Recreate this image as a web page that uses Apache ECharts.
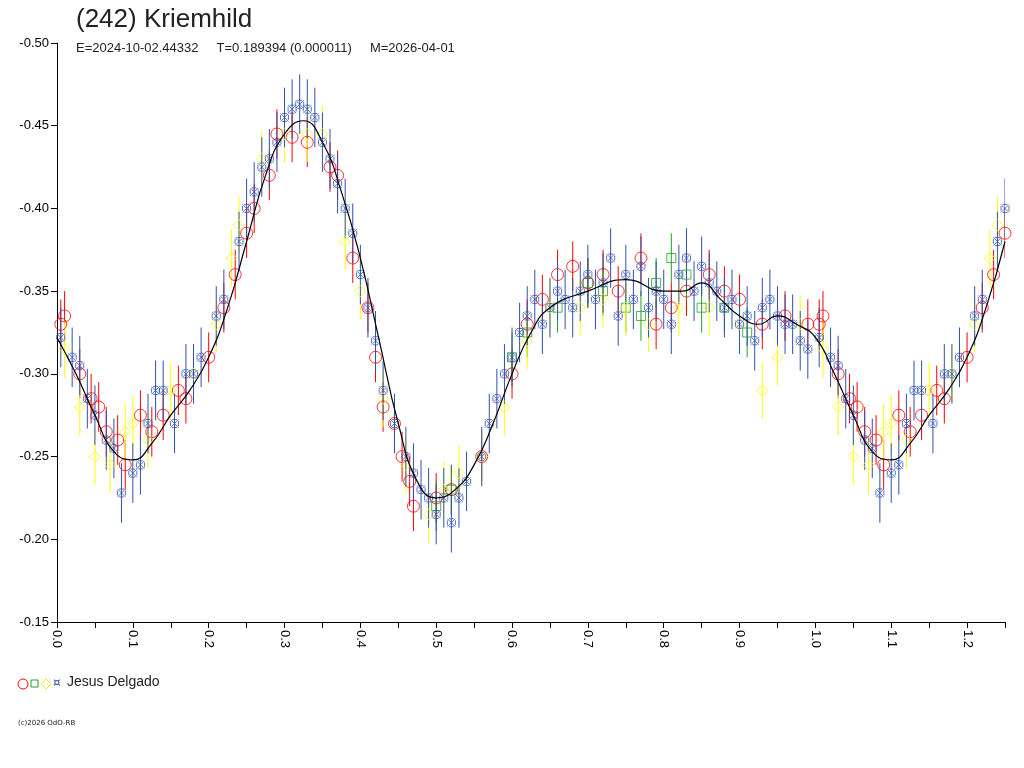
<!DOCTYPE html>
<html>
<head>
<meta charset="utf-8">
<title>(242) Kriemhild</title>
<script src="https://cdn.jsdelivr.net/npm/echarts@6/dist/echarts.min.js"></script>
<style>body{margin:0;background:#fff}#main{width:1024px;height:768px}</style>
</head>
<body>
<div id="main"></div>
<script>
// [phase, mag]
var blueData = [[0.005,-0.322],[0.02,-0.31],[0.03,-0.305],[0.04,-0.285],[0.05,-0.275],[0.065,-0.26],[0.075,-0.255],[0.085,-0.228],[0.1,-0.24],[0.11,-0.245],[0.12,-0.27],[0.13,-0.29],[0.14,-0.29],[0.155,-0.27],[0.17,-0.3],[0.18,-0.3],[0.19,-0.31],[0.21,-0.335],[0.22,-0.345],[0.24,-0.38],[0.25,-0.4],[0.26,-0.41],[0.27,-0.425],[0.28,-0.43],[0.29,-0.44],[0.3,-0.455],[0.31,-0.46],[0.32,-0.463],[0.33,-0.46],[0.34,-0.455],[0.35,-0.44],[0.36,-0.43],[0.37,-0.415],[0.38,-0.4],[0.39,-0.385],[0.4,-0.36],[0.41,-0.34],[0.42,-0.32],[0.43,-0.29],[0.445,-0.27],[0.46,-0.25],[0.47,-0.24],[0.48,-0.23],[0.49,-0.225],[0.5,-0.215],[0.51,-0.225],[0.52,-0.21],[0.53,-0.225],[0.54,-0.235],[0.56,-0.25],[0.57,-0.27],[0.58,-0.285],[0.59,-0.3],[0.6,-0.31],[0.61,-0.325],[0.62,-0.335],[0.63,-0.345],[0.64,-0.33],[0.65,-0.34],[0.66,-0.35],[0.67,-0.345],[0.68,-0.34],[0.69,-0.35],[0.7,-0.36],[0.71,-0.345],[0.72,-0.355],[0.73,-0.37],[0.74,-0.335],[0.75,-0.36],[0.76,-0.345],[0.77,-0.365],[0.78,-0.34],[0.79,-0.35],[0.8,-0.345],[0.81,-0.33],[0.82,-0.36],[0.83,-0.37],[0.84,-0.35],[0.85,-0.365],[0.86,-0.355],[0.87,-0.35],[0.88,-0.34],[0.89,-0.345],[0.9,-0.33],[0.91,-0.335],[0.92,-0.32],[0.93,-0.34],[0.94,-0.345],[0.95,-0.335],[0.96,-0.33],[0.97,-0.33],[0.98,-0.32],[0.99,-0.315]];
var redData = [[0.005,-0.33],[0.01,-0.335],[0.03,-0.3],[0.045,-0.285],[0.055,-0.28],[0.065,-0.265],[0.08,-0.26],[0.09,-0.245],[0.11,-0.275],[0.125,-0.265],[0.14,-0.275],[0.16,-0.29],[0.17,-0.285],[0.2,-0.31],[0.22,-0.34],[0.235,-0.36],[0.25,-0.385],[0.26,-0.4],[0.28,-0.42],[0.29,-0.445],[0.31,-0.443],[0.33,-0.44],[0.36,-0.425],[0.37,-0.42],[0.39,-0.37],[0.41,-0.34],[0.42,-0.31],[0.43,-0.28],[0.445,-0.27],[0.455,-0.25],[0.465,-0.235],[0.47,-0.22],[0.5,-0.225],[0.52,-0.23],[0.56,-0.25],[0.6,-0.3],[0.62,-0.33],[0.64,-0.345],[0.66,-0.36],[0.68,-0.365],[0.7,-0.355],[0.72,-0.36],[0.74,-0.35],[0.77,-0.37],[0.79,-0.33],[0.81,-0.34],[0.83,-0.35],[0.86,-0.36],[0.88,-0.35],[0.9,-0.345],[0.93,-0.33],[0.96,-0.335],[0.99,-0.33]];
var yellowData = [[0.01,-0.315],[0.03,-0.28],[0.05,-0.25],[0.07,-0.245],[0.09,-0.265],[0.1,-0.27],[0.12,-0.26],[0.15,-0.29],[0.18,-0.3],[0.21,-0.33],[0.23,-0.37],[0.24,-0.39],[0.27,-0.43],[0.3,-0.445],[0.33,-0.445],[0.35,-0.445],[0.38,-0.38],[0.4,-0.35],[0.43,-0.285],[0.46,-0.245],[0.49,-0.215],[0.51,-0.23],[0.53,-0.24],[0.56,-0.25],[0.59,-0.28],[0.62,-0.32],[0.65,-0.34],[0.69,-0.34],[0.72,-0.345],[0.75,-0.34],[0.78,-0.33],[0.82,-0.34],[0.86,-0.34],[0.9,-0.33],[0.93,-0.29],[0.95,-0.31],[0.98,-0.33]];
var greenData = [[0.5,-0.22],[0.52,-0.23],[0.6,-0.31],[0.62,-0.325],[0.66,-0.34],[0.7,-0.355],[0.72,-0.35],[0.75,-0.34],[0.77,-0.335],[0.79,-0.355],[0.81,-0.37],[0.83,-0.36],[0.85,-0.34],[0.88,-0.34],[0.91,-0.325]];
var fitCurve = [[0,-0.322],[0.025,-0.3],[0.05,-0.275],[0.075,-0.253],[0.1,-0.248],[0.125,-0.258],[0.15,-0.275],[0.175,-0.29],[0.2,-0.31],[0.225,-0.34],[0.25,-0.38],[0.275,-0.42],[0.3,-0.445],[0.325,-0.453],[0.35,-0.44],[0.375,-0.41],[0.4,-0.37],[0.425,-0.32],[0.45,-0.27],[0.475,-0.235],[0.5,-0.225],[0.525,-0.23],[0.55,-0.245],[0.575,-0.27],[0.6,-0.3],[0.625,-0.325],[0.65,-0.34],[0.7,-0.35],[0.75,-0.357],[0.8,-0.35],[0.825,-0.35],[0.85,-0.355],[0.875,-0.345],[0.9,-0.335],[0.925,-0.33],[0.95,-0.335],[0.975,-0.33],[1.0,-0.322]];
var errBlue = 0.018, errRed = 0.015, errYellow = 0.017, errGreen = 0.015;

// phases up to 0.25 are repeated after 1.0
function wrap(d) {
    var out = d.slice();
    d.forEach(function (p) { if (p[0] <= 0.25 && p[0] > 0) out.push([p[0] + 1, p[1]]); });
    return out;
}

var myChart = echarts.init(document.getElementById('main'));

function errSeries(data, err, color) {
    return {
        type: 'custom', silent: true, z: 2, clip: true,
        data: wrap(data),
        renderItem: function (params, api) {
            var a = api.coord([api.value(0), api.value(1) - err]);
            var b = api.coord([api.value(0), api.value(1) + err]);
            return { type: 'line', shape: { x1: a[0], y1: a[1], x2: b[0], y2: b[1] }, style: { stroke: color, lineWidth: 1 } };
        }
    };
}
function symSeries(data, symbol, size, color) {
    return {
        type: 'scatter', symbol: symbol, symbolSize: size, z: 3, data: wrap(data), clip: true,
        itemStyle: { color: 'rgba(0,0,0,0)', borderColor: color, borderWidth: 1 }
    };
}

var starPath = 'path://M0,0L10,10M10,0L0,10M2,0L8,0M2,10L8,10M0,2L0,8M10,2L10,8';

var option = {
    animation: false,
    grid: { left: 57, top: 43, right: 19, bottom: 146 },
    xAxis: {
        type: 'value', min: 0, max: 1.25, interval: 0.05,
        axisLine: { lineStyle: { color: '#000' } },
        axisTick: { length: 6, lineStyle: { color: '#000' } },
        splitLine: { show: false },
        axisLabel: {
            rotate: -90, color: '#000', fontSize: 13, fontFamily: 'Liberation Sans', margin: 8,
            formatter: function (v) { var k = Math.round(v * 100); return k % 10 === 0 ? (v).toFixed(1) : ''; }
        }
    },
    yAxis: {
        type: 'value', inverse: true, min: -0.5, max: -0.15, interval: 0.05,
        axisLine: { show: true, lineStyle: { color: '#000' } },
        axisTick: { show: true, length: 6, lineStyle: { color: '#000' } },
        splitLine: { show: false },
        axisLabel: { color: '#000', fontSize: 13, fontFamily: 'Liberation Sans', formatter: function (v) { return v.toFixed(2); } }
    },
    series: [
        errSeries(redData, errRed, '#ff0000'),
        errSeries(greenData, errGreen, '#20a020'),
        errSeries(yellowData, errYellow, '#ffff00'),
        errSeries(blueData, errBlue, '#3050b0'),
        symSeries(redData, 'circle', 12, '#ff0000'),
        symSeries(greenData, 'rect', 9, '#20a020'),
        symSeries(yellowData, 'diamond', 11, '#ffff00'),
        symSeries(blueData, starPath, 8, '#3050b0'),
        {
            type: 'line', data: wrap(fitCurve), smooth: true, symbol: 'none', z: 4,
            lineStyle: { color: '#000', width: 1.2 }
        }
    ],
    graphic: [
        { type: 'text', left: 76, top: 7, style: { text: '(242) Kriemhild', font: '26px "Liberation Sans"', fill: '#222' } },
        { type: 'text', left: 76, top: 42, style: { text: 'E=2024-10-02.44332     T=0.189394 (0.000011)     M=2026-04-01', font: '13px "Liberation Sans"', fill: '#222' } },
        { type: 'circle', shape: { cx: 23, cy: 684, r: 5 }, style: { fill: 'none', stroke: '#ff0000' } },
        { type: 'rect', shape: { x: 31, y: 680, width: 7, height: 7 }, style: { fill: 'none', stroke: '#20a020' } },
        { type: 'polygon', shape: { points: [[46, 679], [51, 684], [46, 689], [41, 684]] }, style: { fill: 'none', stroke: '#ffee00' } },
        { type: 'text', left: 53, top: 677, style: { text: '¤', font: '12px "DejaVu Sans"', fill: '#3050b0' } },
        { type: 'text', left: 67, top: 675, style: { text: 'Jesus Delgado', font: '14px "Liberation Sans"', fill: '#222' } },
        { type: 'text', left: 18, top: 720, style: { text: '(c)2026 OdO-RB', font: '7px "DejaVu Sans"', fill: '#222' } }
    ]
};
myChart.setOption(option);
</script>
</body>
</html>
